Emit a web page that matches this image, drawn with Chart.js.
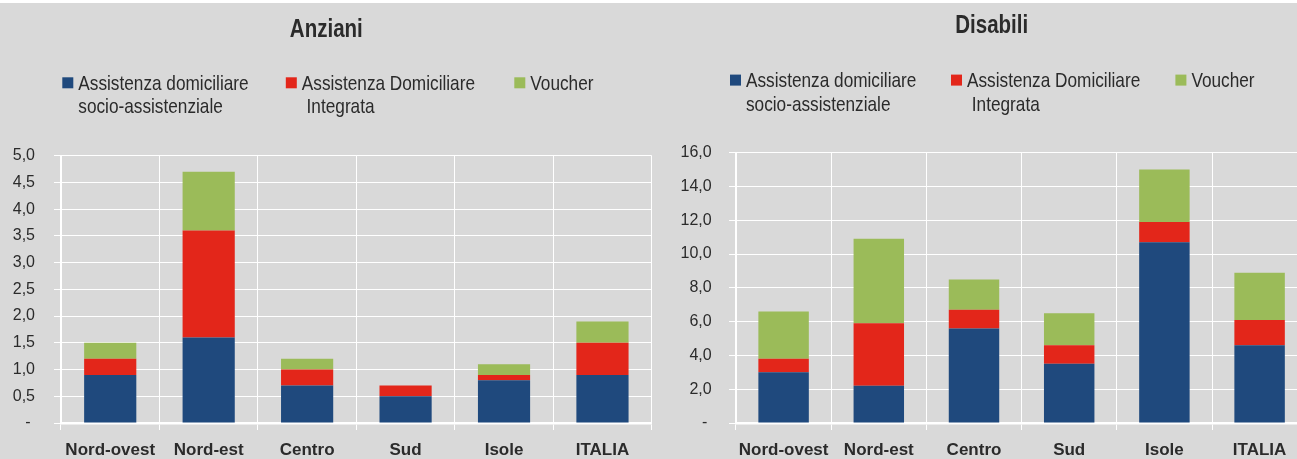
<!DOCTYPE html>
<html>
<head>
<meta charset="utf-8">
<script src="https://cdn.jsdelivr.net/npm/chart.js@4.4.1/dist/chart.umd.min.js"></script>
<style>
  html, body { margin: 0; padding: 0; background: #fff; width: 1297px; height: 459px; overflow: hidden; }
  canvas { position: absolute; top: 3px; background: #d9d9d9; }
  #anziani { left: 0; }
  #disabili { left: 660px; }
</style>
</head>
<body>
<canvas id="anziani" width="660" height="456"></canvas>
<canvas id="disabili" width="660" height="456"></canvas>
<script>
// dati (valori per area geografica)
const categories = ['Nord-ovest', 'Nord-est', 'Centro', 'Sud', 'Isole', 'ITALIA'];
const seriesLabels = [
  ['Assistenza domiciliare', 'socio-assistenziale'],
  ['Assistenza Domiciliare', ' Integrata'],
  ['Voucher']
];
const anzianiSad     = [0.9, 1.6, 0.7, 0.5, 0.8, 0.9];
const anzianiAdi     = [0.3, 2.0, 0.3, 0.2, 0.1, 0.6];
const anzianiVoucher = [0.3, 1.1, 0.2, 0.0, 0.2, 0.4];
const disabiliSad     = [3.0, 2.2, 5.6, 3.5, 10.7, 4.6];
const disabiliAdi     = [0.8, 3.7, 1.1, 1.1, 1.2, 1.5];
const disabiliVoucher = [2.8, 5.0, 1.8, 1.9, 3.1, 2.8];
const anzianiTicks  = { max: 5, step: 0.5 };
const disabiliTicks = { max: 16, step: 2 };

const barColors = ['#1f497d', '#e3261a', '#9bbb59'];
const textColor = '#2b2b2b';
const sans = '"Liberation Sans", Arial, sans-serif';
const narrowScale = 0.82; // no Arial Narrow here, so squeeze the text

// draw text squeezed horizontally, like a narrow font
function narrowText(ctx, text, x, y) {
  ctx.save();
  ctx.translate(x, y);
  ctx.scale(narrowScale, 1);
  ctx.fillText(text, 0, 0);
  ctx.restore();
}

// titolo e legenda disegnati a mano (etichette su due righe)
const header = {
  id: 'header',
  afterDraw(chart, args, o) {
    const ctx = chart.ctx;
    ctx.save();
    ctx.fillStyle = textColor;
    ctx.font = 'bold 25px ' + sans;
    ctx.textAlign = 'center';
    ctx.textBaseline = 'alphabetic';
    narrowText(ctx, o.title, o.titleX, o.titleY);
    ctx.font = '21px ' + sans;
    ctx.textAlign = 'left';
    chart.data.datasets.forEach(function(ds, i) {
      const x = o.itemX[i];
      ctx.fillStyle = ds.backgroundColor;
      ctx.fillRect(x, o.textY - 12.7, 11, 11);
      ctx.fillStyle = textColor;
      [].concat(ds.label).forEach(function(line, j) {
        narrowText(ctx, line, x + 16, o.textY + j * 23.3);
      });
    });
    ctx.restore();
  }
};

function makeChart(id, title, sad, adi, voucher, ticks, lay) {
  const values = [sad, adi, voucher];
  return new Chart(id, {
    type: 'bar',
    data: {
      labels: categories,
      datasets: values.map(function(v, i) {
        return {
          label: seriesLabels[i],
          data: v,
          backgroundColor: barColors[i],
          borderWidth: 0,
          barPercentage: 0.53,
          categoryPercentage: 1
        };
      })
    },
    options: {
      responsive: false,
      animation: false,
      devicePixelRatio: 1,
      layout: { padding: { top: lay.top, right: lay.right, left: 0, bottom: 0 } },
      plugins: {
        legend: { display: false },
        title: { display: false },
        tooltip: { enabled: false },
        header: { title: title, titleX: lay.titleX, titleY: lay.titleY, itemX: lay.itemX, textY: lay.textY }
      },
      scales: {
        x: {
          stacked: true,
          grid: { color: '#ffffff', lineWidth: 1, offset: true, tickLength: 7 },
          border: { color: '#ffffff', width: 2.5 },
          ticks: {
            color: textColor,
            font: { family: sans, size: 17, weight: 'bold' },
            padding: 10,
            autoSkip: false,
            maxRotation: 0
          },
          afterFit: function(scale) { scale.height = 36; }
        },
        y: {
          stacked: true,
          min: 0,
          max: ticks.max,
          grid: { color: '#ffffff', lineWidth: 1, tickLength: 7 },
          border: { color: '#ffffff', width: 2 },
          ticks: {
            stepSize: ticks.step,
            color: textColor,
            font: { family: sans, size: 16 },
            padding: lay.tickPad,
            callback: function(v) { return v === 0 ? '- ' : v.toFixed(1).replace('.', ','); }
          },
          afterFit: function(scale) { scale.width = lay.axisX; }
        }
      }
    },
    plugins: [header]
  });
}

makeChart('anziani', 'Anziani', anzianiSad, anzianiAdi, anzianiVoucher, anzianiTicks, {
  top: 152.7, right: 8.3, axisX: 61, tickPad: 19,
  titleX: 326.3, titleY: 33.7, itemX: [62.3, 285.8, 514.3], textY: 87
});
makeChart('disabili', 'Disabili', disabiliSad, disabiliAdi, disabiliVoucher, disabiliTicks, {
  top: 149.7, right: 12.8, axisX: 76, tickPad: 17.3,
  titleX: 331.7, titleY: 30.3, itemX: [70, 291, 515.4], textY: 84.3
});
</script>
</body>
</html>
